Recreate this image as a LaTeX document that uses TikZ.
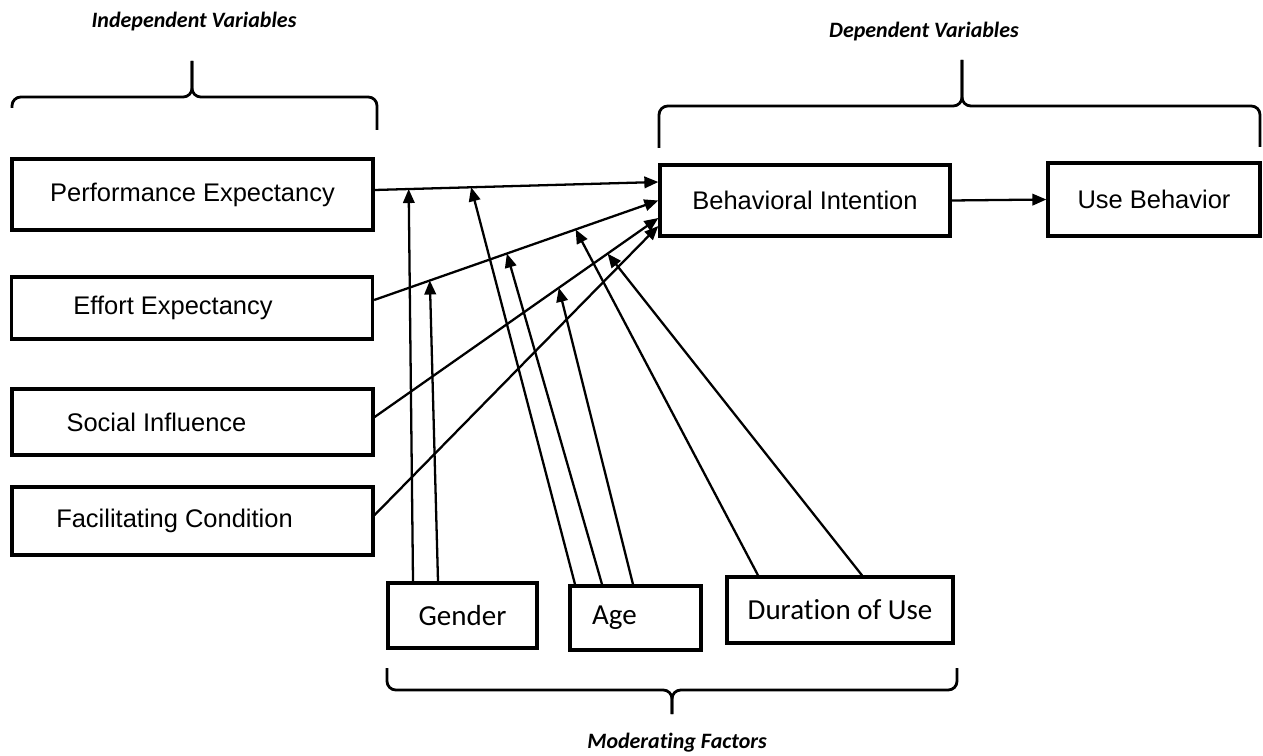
\documentclass[tikz,border=0pt]{standalone}
\usepackage{fontspec}
\setmainfont{Liberation Sans}
\newfontfamily\calib[Ligatures=NoCommon]{Carlito}
\usepackage{tikz}
\usetikzlibrary{arrows.meta, positioning, calc}
\tikzset{
    varbox/.style   ={rectangle, minimum width=7.22cm, text centered, align=center, inner sep=0pt, draw=black, line width=1.9pt, font=\fontsize{14.5pt}{17pt}\selectfont},
    modbox/.style   ={rectangle, text centered, align=center, inner sep=0pt, draw=black, line width=1.9pt, font=\calib\fontsize{16.5pt}{19pt}\selectfont},
    heading/.style  ={font=\calib\bfseries\itshape\fontsize{12.5pt}{15pt}\selectfont},
    flowarrow/.style={-{Triangle[length=2.8mm, width=2.3mm]}, line width=1.3pt},
    brace/.style    ={line width=1.6pt, rounded corners=5pt},
}

\begin{document}
\begin{tikzpicture}[x=0.02cm, y=-0.02cm]
                \useasboundingbox (0,0) rectangle (1263,756);
                \node[heading] (indep) at (194,22) {Independent Variables};
                \node[heading] (dep) at (924,32) {Dependent Variables};
                \node[heading] (moder) at (677,743) {Moderating Factors};
                % independent variables
                \node[varbox, minimum height=1.42cm] (perf) at (192.5,194.5) {Performance Expectancy};
                \node[varbox, minimum height=1.24cm] (effort) at (192,308) {Effort Expectancy\hspace*{0.76cm}};
                \node[varbox, minimum height=1.32cm] (social) at (192.5,422) {Social Influence\hspace*{1.44cm}};
                \node[varbox, minimum height=1.36cm] (facil) at (192.5,521) {Facilitating Condition\hspace*{0.72cm}};
                % dependent variables
                \node[varbox, minimum width=5.8cm, minimum height=1.42cm] (intent) at (805,200.5) {Behavioral Intention};
                \node[varbox, minimum width=4.24cm, minimum height=1.46cm] (usebeh) at (1154,199.5) {Use Behavior};
                % moderating factors
                \node[modbox, minimum width=2.98cm, minimum height=1.3cm] (gender) at (462.5,615.5) {Gender};
                \node[modbox, minimum width=2.62cm, minimum height=1.28cm] (age) at (635.5,618) {Age\hspace*{0.84cm}};
                \node[modbox, minimum width=4.52cm, minimum height=1.32cm] (durat) at (840,610) {Duration of Use};
                \draw[flowarrow]([yshift=0.09cm]perf.east)-- coordinate[pos=0.12](pe1) coordinate[pos=0.34](pe2) ([yshift=0.37cm]intent.west);
                \draw[flowarrow]([yshift=0.16cm]effort.east)-- coordinate[pos=0.196](ee1) coordinate[pos=0.467](ee2) coordinate[pos=0.709](ee3) (intent.west);
                \draw[flowarrow]([yshift=0.1cm]social.east)-- coordinate[pos=0.649](si1) coordinate[pos=0.821](si2) ([yshift=-0.35cm]intent.west);
                \draw[flowarrow]([yshift=0.12cm]facil.east)--([yshift=-0.51cm]intent.west);
                \draw[flowarrow](intent.east)--(usebeh.west);
                \draw[flowarrow]([xshift=-0.99cm]gender.north)--(pe1);
                \draw[flowarrow]([xshift=-0.49cm]gender.north)--(ee1);
                \draw[flowarrow]([xshift=-1.21cm]age.north)--(pe2);
                \draw[flowarrow]([xshift=-0.67cm]age.north)--(ee2);
                \draw[flowarrow]([xshift=-0.05cm]age.north)--(si1);
                \draw[flowarrow]([xshift=-1.64cm]durat.north)--(ee3);
                \draw[flowarrow]([xshift=0.44cm]durat.north)--(si2);
                % braces
                \draw[brace](12,108)|-(192,97)--(192,61);
                \draw[brace](192,61)--(192,97)-|(377,130);
                \draw[brace](659,148)|-(962,106)--(962,60);
                \draw[brace](962,60)--(962,106)-|(1260,147);
                \draw[brace](387,668)|-(672,690)--(672,714);
                \draw[brace](672,714)--(672,690)-|(957,668);
            \end{tikzpicture}
\end{document}
